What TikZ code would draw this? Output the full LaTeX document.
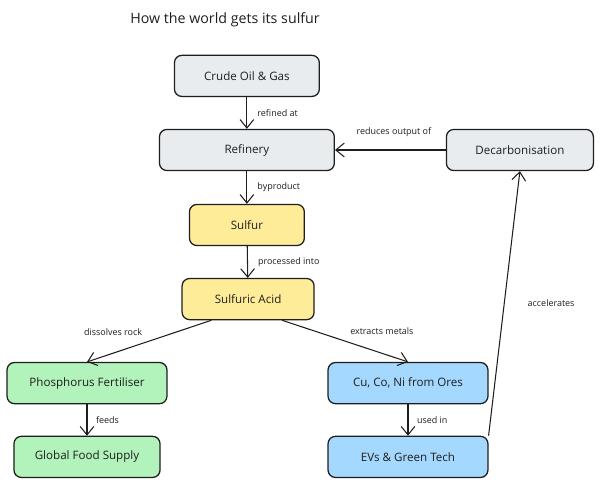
\documentclass[tikz,border=0pt]{standalone}
\usepackage{fontspec}
\setmainfont{Open Sans}
\usepackage{xcolor}
\usepackage{tikz}
\usetikzlibrary{calc, arrows.meta, positioning}

\definecolor{boxgrey}{HTML}{E9ECEF}
\definecolor{boxyellow}{HTML}{FFEC99}
\definecolor{boxgreen}{HTML}{B2F2BB}
\definecolor{boxblue}{HTML}{A5D8FF}
\definecolor{inkline}{HTML}{1E1E1E}

\begin{document}
\begin{tikzpicture}[>={Straight Barb[length=8pt,width=13pt]}, scale=1,
    box/.style={draw=inkline, line width=1.2pt, rounded corners=7pt,
                minimum height=1.37cm, text=inkline,
                font=\fontsize{11}{13}\selectfont},
    lbl/.style={text=inkline, inner sep=1pt,
                font=\fontsize{8.5}{10}\selectfont},
    flow/.style={->, draw=inkline, line width=1pt, line join=round}]

    % =================================================================
    % 1. KHUNG ANH (20 x 16.2 units)
    % =================================================================
    \useasboundingbox (0,0) rectangle (20,16.2);

    \node[text=inkline, font=\fontsize{13.5}{15}\selectfont] (title) at (7.5,15.53)
        {How the world gets its sulfur};

    % =================================================================
    % 2. CAC HOP (cot giua, nhanh trai, nhanh phai)
    % =================================================================
    \node[box, fill=boxgrey, minimum width=4.83cm] (crude) at (8.23,13.67) {Crude Oil \& Gas};
    \node[box, fill=boxgrey, minimum width=5.83cm] (refinery) at (8.23,11.2) {Refinery};
    \node[box, fill=boxgrey, minimum width=4.9cm] (decarb) at (17.33,11.2) {Decarbonisation};
    \node[box, fill=boxyellow, minimum width=3.83cm] (sulfur) at (8.23,8.7) {Sulfur};
    \node[box, fill=boxyellow, minimum width=4.4cm] (acid) at (8.27,6.23) {Sulfuric Acid};

    \node[box, fill=boxgreen, minimum width=5.33cm] (phos) at (2.9,3.43) {Phosphorus Fertiliser};
    \node[box, fill=boxgreen, minimum width=4.87cm] (food) at (2.9,0.97) {Global Food Supply};

    \node[box, fill=boxblue, minimum width=5.33cm] (ores) at (13.6,3.43) {Cu, Co, Ni from Ores};
    \node[box, fill=boxblue, minimum width=5.33cm] (evs) at (13.6,0.97) {EVs \& Green Tech};

    % =================================================================
    % 3. MUI TEN VA NHAN
    % =================================================================
    \draw[flow] (crude) -- node[lbl, right=0.3cm] (lblRefined) {refined at} (refinery);
    \draw[flow] (refinery) -- node[lbl, right=0.3cm] (lblByproduct) {byproduct} (sulfur);
    \draw[flow] (sulfur) -- node[lbl, right=0.3cm] (lblProcessed) {processed into} (acid);

    \draw[flow] (decarb) -- (refinery);
    \node[lbl] (lblReduces) at (13.13,11.8) {reduces output of};

    \draw[flow] (acid.-150) -- (phos.north);
    \node[lbl] (lblDissolves) at (3.77,5.13) {dissolves rock};
    \draw[flow] (acid.-32) -- (ores.north);
    \node[lbl] (lblExtracts) at (12.73,5.17) {extracts metals};

    \draw[flow] (phos) -- node[lbl, right=0.25cm] (lblFeeds) {feeds} (food);
    \draw[flow] (ores) -- node[lbl, right=0.25cm] (lblUsed) {used in} (evs);

    \draw[flow] (evs.north east) -- (decarb.south);
    \node[lbl] (lblAccel) at (18.37,6.1) {accelerates};

\end{tikzpicture}
\end{document}
